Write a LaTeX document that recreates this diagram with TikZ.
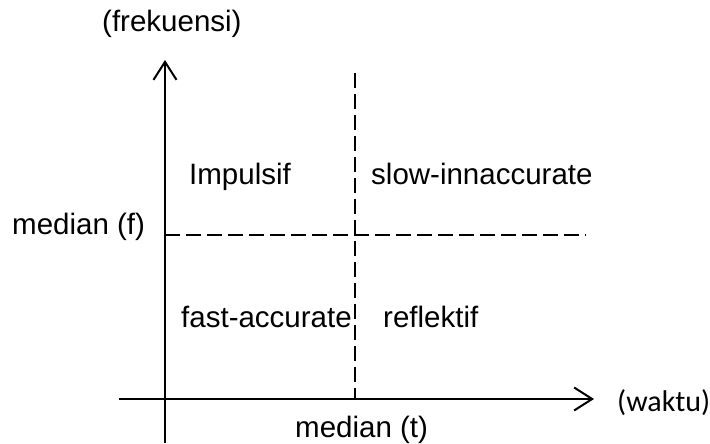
\documentclass[tikz,border=0pt]{standalone}
\usepackage{fontspec}
\setmainfont{Liberation Sans}
\newfontfamily\calfont{Carlito}
\usetikzlibrary{arrows.meta}
\begin{document}
\begin{tikzpicture}[x=1pt,y=1pt,
  lbl/.style={anchor=base west,inner sep=0pt,font=\fontsize{29.5}{31}\selectfont},
  axis/.style={line width=2pt,-{Straight Barb[length=18pt,width=23pt,line width=2pt]}},
  dashln/.style={line width=2pt,dash pattern=on 15pt off 6pt}]
\useasboundingbox (0,0) rectangle (710,444);
% coordinates
\coordinate (ybot) at (165,1);
\coordinate (ytop) at (165,384);
\coordinate (xleft) at (119,45);
\coordinate (xright) at (594,45);
\coordinate (vtop) at (355,371);
\coordinate (vbot) at (355,45);
\coordinate (hleft) at (165,209);
\coordinate (hright) at (586,209);
% axes
\draw[axis] (ybot) -- (ytop);
\draw[axis] (xleft) -- (xright);
% dashed medians
\draw[dashln] (vtop) -- (vbot);
\draw[dashln] (hleft) -- (hright);
% labels
\node[lbl] (frek) at (102,412) {(frekuensi)};
\node[lbl] (imp) at (189,259) {Impulsif};
\node[lbl] (slow) at (371,259) {slow-innaccurate};
\node[lbl] (medf) at (12,209) {median (f)};
\node[lbl] (fast) at (181,116) {fast-accurate};
\node[lbl] (refl) at (383,116) {reflektif};
\node[lbl] (medt) at (295,6) {median (t)};
\node[lbl,font=\calfont\fontsize{30}{32}\selectfont] (wak) at (617,32) {(waktu)};
\end{tikzpicture}
\end{document}
